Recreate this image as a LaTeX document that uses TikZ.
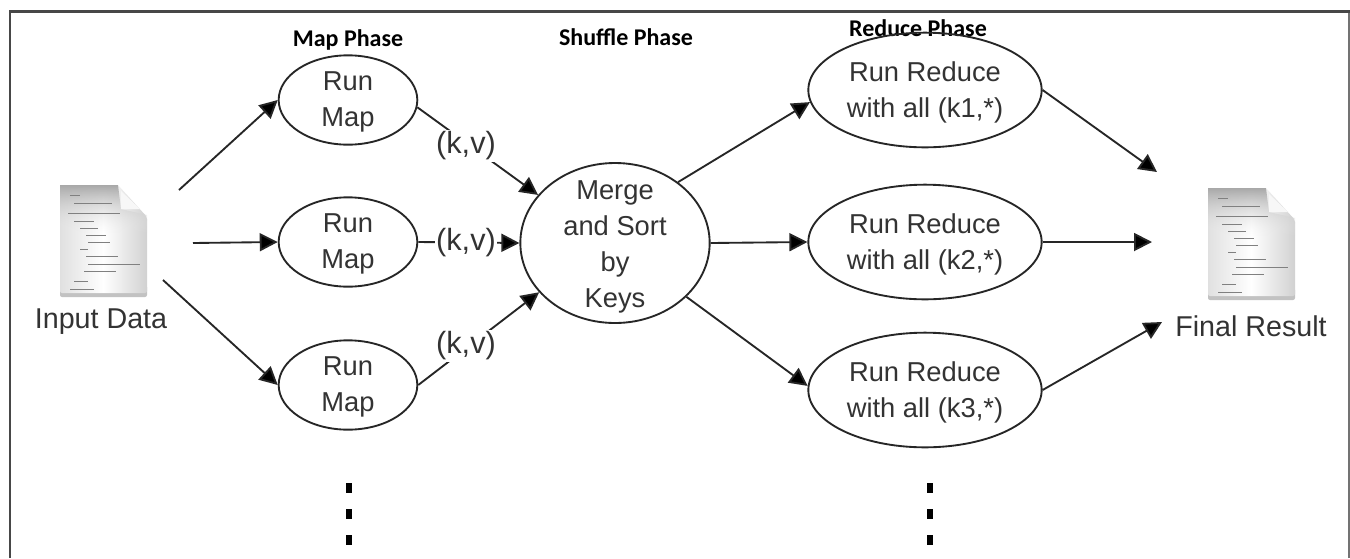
\documentclass[tikz,border=0pt]{standalone}
\usepackage{fontspec}
\setmainfont{Liberation Sans}
\newfontfamily\headfont{Carlito}
\usetikzlibrary{arrows.meta,shapes.geometric,fadings}
\tikzset{
  x=0.75pt,y=-0.75pt,
  oval/.style={draw=black!85,line width=1.4pt,ellipse,align=center,inner xsep=-30pt,inner ysep=-40pt,text=black!80,font=\fontsize{20.5}{27}\selectfont},
  lab/.style={text=black!80,font=\fontsize{21.5}{25}\selectfont,inner sep=0pt},
  klab/.style={text=black!80,fill=white,font=\fontsize{23}{25}\selectfont,inner sep=1pt},
  head/.style={font=\headfont\bfseries\fontsize{18}{20}\selectfont,inner sep=0pt},
  arr/.style={draw=black!85,line width=1.4pt,-{Triangle[length=13.5pt,width=13.5pt,fill=black]}},
  dotmark/.style={fill=black,minimum width=4.5pt,minimum height=7.5pt,inner sep=0pt},
  tline/.style={draw=black!50,line width=0.35pt},
}
\newcommand{\tsh}{\rule{0pt}{19.5pt}}
\newcommand{\tshm}{\rule{0pt}{16.5pt}}
\newcommand{\tshr}{\rule{0pt}{18pt}}
\newcommand{\docicon}[1]{%
 \begin{scope}[shift={(#1)}]
  \fill[black!24,rounded corners=1.5pt] (0,100) rectangle (87,112);
  \shade[left color=black!12,right color=black!18,middle color=white,rounded corners=1.5pt] (0,0) -- (58,0) -- (87,32) -- (87,108) -- (0,108) -- cycle;
  \shade[top color=black!34,bottom color=black!6,path fading=south] (0,0) -- (58,0) -- (61,24) -- (87,30) -- (87,48) -- (0,48) -- cycle;
  \fill[black!3] (61,6) -- (61,24) -- (80,24) -- cycle;
  \foreach \a/\b/\y in {10/20/10,14/52/18,8/60/28,14/34/36,20/38/43,26/46/50,28/50/57,20/28/64,26/58/71,28/80/79,24/56/86,14/28/96,10/34/104}
    \draw[tline] (\a,\y) -- (\b,\y);
 \end{scope}}
\begin{document}
\begin{tikzpicture}
\useasboundingbox (0,0) rectangle (1350,558);
\fill[white] (0,0) rectangle (1350,558);
\draw[black!55,line width=1.5pt] (1348.5,558) -- (1348.5,11.5);
\draw[black!72,line width=2.2pt] (10,558) -- (10,11.5) -- (1350,11.5);
\docicon{60,185}
\docicon{1208,188}
\node[lab] (input) at (101,322) {Input Data};
\node[lab] (final) at (1251,326.5) {Final Result};
\node[head] (hmap) at (348,39.5) {Map Phase};
\node[head] (hshuffle) at (626,37) {Shuffle Phase};
\node[head] (hreduce) at (918,28) {Reduce Phase};
\node[oval,minimum width=104pt,minimum height=67pt] (m1) at (348,100) {\tshm Run\\Map};
\node[oval,minimum width=104pt,minimum height=67pt] (m2) at (348,242) {\tshm Run\\Map};
\node[oval,minimum width=104pt,minimum height=67pt] (m3) at (348,385) {\tshm Run\\Map};
\node[oval,minimum width=142pt,minimum height=120pt] (merge) at (615,243) {\tsh Merge\\and Sort\\by\\Keys};
\node[oval,minimum width=175pt,minimum height=86pt] (r1) at (925,90) {\tshr Run Reduce\\with all (k1,*)};
\node[oval,minimum width=175pt,minimum height=86pt] (r2) at (925,242) {\tshr Run Reduce\\with all (k2,*)};
\node[oval,minimum width=175pt,minimum height=86pt] (r3) at (925,390) {\tshr Run Reduce\\with all (k3,*)};
\coordinate (a1) at (179,190); \coordinate (a2) at (193,243); \coordinate (a3) at (163,280);
\coordinate (e1) at (1157,172); \coordinate (e2) at (1152,242); \coordinate (e3) at (1162,322);
\draw[arr] (a1) -- (m1.west);
\draw[arr] (a2) -- (m2.west);
\draw[arr] (a3) -- (m3.west);
\draw[arr] (m1.-6) -- (merge.148);
\draw[arr] (m2.east) -- (merge.west);
\draw[arr] (m3.east) -- (merge.213);
\node[klab] (k1) at (466,146) {(k,v)};
\node[klab] (k2) at (466,243) {(k,v)};
\node[klab] (k3) at (466,346) {(k,v)};
\draw[arr] (merge.44) -- (r1.186);
\draw[arr] (merge.east) -- (r2.west);
\draw[arr] (merge.-37) -- (r3.178);
\draw[arr] (r1.east) -- (e1);
\draw[arr] (r2.east) -- (e2);
\draw[arr] (r3.east) -- (e3);
\foreach \n/\x/\y in {d1/349/488,d2/349/514,d3/349/540,d4/930/488,d5/930/514,d6/930/540}
  \node[dotmark] (\n) at (\x,\y) {};
\end{tikzpicture}
\end{document}
